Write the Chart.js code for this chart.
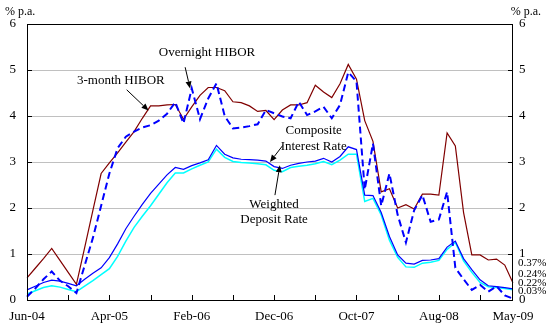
<!DOCTYPE html>
<html>
<head>
<meta charset="utf-8">
<script src="https://cdn.jsdelivr.net/npm/chart.js@4/dist/chart.umd.min.js"></script>
<style>
  html, body { margin: 0; padding: 0; background: #fff; }
  #wrap { width: 548px; height: 330px; }
</style>
</head>
<body>
<div id="wrap"><canvas id="rates"></canvas></div>
<script>
// Monthly observations, Jun-04 .. May-09
const months = [
  'Jun-04','Jul-04','Aug-04','Sep-04','Oct-04','Nov-04','Dec-04',
  'Jan-05','Feb-05','Mar-05','Apr-05','May-05','Jun-05','Jul-05','Aug-05','Sep-05','Oct-05','Nov-05','Dec-05',
  'Jan-06','Feb-06','Mar-06','Apr-06','May-06','Jun-06','Jul-06','Aug-06','Sep-06','Oct-06','Nov-06','Dec-06',
  'Jan-07','Feb-07','Mar-07','Apr-07','May-07','Jun-07','Jul-07','Aug-07','Sep-07','Oct-07','Nov-07','Dec-07',
  'Jan-08','Feb-08','Mar-08','Apr-08','May-08','Jun-08','Jul-08','Aug-08','Sep-08','Oct-08','Nov-08','Dec-08',
  'Jan-09','Feb-09','Mar-09','Apr-09','May-09'
];
const tickLabels = ['Jun-04', 'Apr-05', 'Feb-06', 'Dec-06', 'Oct-07', 'Aug-08', 'May-09'];
const yTicks = [0, 1, 2, 3, 4, 5, 6];

const hibor3m = [
  0.48, 0.69, 0.90, 1.12, 0.86, 0.60, 0.34, 1.14, 1.95, 2.75,
  2.98, 3.20, 3.43, 3.66, 3.95, 4.22, 4.22, 4.24, 4.25, 3.93,
  4.20, 4.45, 4.62, 4.62, 4.55, 4.31, 4.29, 4.22, 4.10, 4.12,
  3.92, 4.13, 4.24, 4.24, 4.29, 4.67, 4.52, 4.40, 4.70, 5.12,
  4.80, 3.90, 3.45, 2.35, 2.42, 2.00, 2.07, 1.98, 2.30, 2.30,
  2.28, 3.63, 3.35, 1.90, 0.98, 0.98, 0.87, 0.89, 0.76, 0.37
];
const overnight = [
  0.07, 0.25, 0.45, 0.62, 0.42, 0.30, 0.15, 0.75, 1.35, 2.05,
  2.75, 3.30, 3.55, 3.66, 3.75, 3.80, 3.90, 4.05, 4.30, 3.84,
  4.60, 3.93, 4.38, 4.71, 4.00, 3.73, 3.75, 3.78, 3.82, 4.13,
  4.06, 3.99, 3.95, 4.31, 4.02, 4.10, 4.20, 3.95, 4.24, 4.95,
  4.75, 2.40, 3.40, 2.05, 2.75, 1.85, 1.25, 1.95, 2.28, 1.70,
  1.75, 2.35, 0.70, 0.45, 0.22, 0.33, 0.18, 0.30, 0.10, 0.03
];
const composite = [
  0.22, 0.30, 0.38, 0.43, 0.41, 0.36, 0.31, 0.45, 0.58, 0.70,
  0.92, 1.22, 1.55, 1.82, 2.08, 2.32, 2.52, 2.72, 2.88, 2.84,
  2.92, 2.98, 3.05, 3.36, 3.17, 3.09, 3.06, 3.05, 3.04, 3.02,
  2.90, 2.86, 2.93, 2.97, 3.00, 3.02, 3.08, 3.00, 3.12, 3.33,
  3.27, 2.28, 2.27, 1.90, 1.38, 0.98, 0.80, 0.78, 0.86, 0.87,
  0.90, 1.15, 1.28, 0.90, 0.66, 0.44, 0.31, 0.29, 0.27, 0.24
];
const weighted = [
  0.13, 0.20, 0.27, 0.31, 0.28, 0.23, 0.18, 0.30, 0.42, 0.55,
  0.68, 0.95, 1.28, 1.58, 1.82, 2.05, 2.30, 2.55, 2.76, 2.76,
  2.85, 2.93, 3.00, 3.28, 3.10, 3.01, 2.99, 2.98, 2.96, 2.94,
  2.82, 2.79, 2.88, 2.91, 2.93, 2.96, 3.01, 2.94, 3.04, 3.17,
  3.17, 2.14, 2.21, 1.85, 1.30, 0.93, 0.72, 0.71, 0.80, 0.82,
  0.86, 1.10, 1.25, 0.85, 0.60, 0.38, 0.29, 0.27, 0.25, 0.22
];

const SERIF = '"Liberation Serif", "Times New Roman", serif';

// callouts: text lines at (month index, rate), arrow from -> to in the same units
const callouts = [
  { lines: ['Overnight HIBOR'], at: [21.85, 5.38], from: [19.2, 5.06], to: [19.8, 4.6] },
  { lines: ['3-month HIBOR'], at: [11.4, 4.76], from: [12.1, 4.57], to: [14.75, 4.12] },
  { lines: ['Composite', 'Interest Rate'], at: [34.8, 3.68], from: [31.05, 3.36], to: [29.5, 3.0] },
  { lines: ['Weighted', 'Deposit Rate'], at: [30.0, 2.08], from: [30.1, 2.28], to: [30.7, 2.93] }
];

// end-of-period readings shown beside the right axis (last value of each series)
const endSeries = [hibor3m, composite, weighted, overnight];
const endOffsets = [-37, -26, -17, -9];

function drawArrow(ctx, x1, y1, x2, y2) {
  const ang = Math.atan2(y2 - y1, x2 - x1);
  const len = 7, half = 3;
  ctx.beginPath();
  ctx.moveTo(x1, y1);
  ctx.lineTo(x2 - Math.cos(ang) * len, y2 - Math.sin(ang) * len);
  ctx.stroke();
  ctx.beginPath();
  ctx.moveTo(x2, y2);
  ctx.lineTo(x2 - Math.cos(ang) * len - Math.sin(ang) * half, y2 - Math.sin(ang) * len + Math.cos(ang) * half);
  ctx.lineTo(x2 - Math.cos(ang) * len + Math.sin(ang) * half, y2 - Math.sin(ang) * len - Math.cos(ang) * half);
  ctx.closePath();
  ctx.fill();
}

const frame = {
  id: 'frame',
  afterDatasetsDraw(chart) {
    const { ctx, chartArea: a, scales } = chart;
    const x = scales.x, y = scales.y;
    ctx.save();
    ctx.strokeStyle = '#000';
    ctx.lineWidth = 1;
    ctx.strokeRect(a.left + 0.5, a.top + 0.5, a.right - a.left - 1, a.bottom - a.top);

    // inward tick marks
    ctx.beginPath();
    yTicks.forEach(v => {
      const py = Math.round(y.getPixelForValue(v)) + 0.5;
      ctx.moveTo(a.left, py); ctx.lineTo(a.left + 5, py);
      ctx.moveTo(a.right, py); ctx.lineTo(a.right - 5, py);
    });
    for (let i = 0; i < months.length; i += 5) {
      const px = Math.round(x.getPixelForValue(i)) + 0.5;
      ctx.moveTo(px, a.bottom); ctx.lineTo(px, a.bottom - 5);
    }
    ctx.stroke();

    // unit captions
    ctx.fillStyle = '#000';
    ctx.font = '12px ' + SERIF;
    ctx.textBaseline = 'middle';
    ctx.textAlign = 'left';
    ctx.fillText('% p.a.', 5, 12);
    ctx.textAlign = 'right';
    ctx.fillText('% p.a.', 541, 12);

    // callouts
    ctx.font = '13px ' + SERIF;
    ctx.textAlign = 'center';
    callouts.forEach(c => {
      const tx = x.getPixelForValue(c.at[0]), ty = y.getPixelForValue(c.at[1]);
      c.lines.forEach((t, i) => ctx.fillText(t, tx, ty + i * 15.5));
      drawArrow(ctx, x.getPixelForValue(c.from[0]), y.getPixelForValue(c.from[1]),
                x.getPixelForValue(c.to[0]), y.getPixelForValue(c.to[1]));
    });

    // latest readings
    ctx.font = '11px ' + SERIF;
    ctx.textAlign = 'left';
    endSeries.forEach((s, i) => {
      ctx.fillText(s[s.length - 1].toFixed(2) + '%', a.right + 5, a.bottom + endOffsets[i]);
    });
    ctx.restore();
  }
};

const tickFont = { family: SERIF, size: 13 };

new Chart(document.getElementById('rates'), {
  type: 'line',
  data: {
    labels: months,
    datasets: [
      { label: 'Overnight HIBOR', data: overnight, borderColor: '#0000ff', borderWidth: 2, borderDash: [7, 4] },
      { label: '3-month HIBOR', data: hibor3m, borderColor: '#800000', borderWidth: 1.2 },
      { label: 'Composite Interest Rate', data: composite, borderColor: '#0000ff', borderWidth: 1.2 },
      { label: 'Weighted Deposit Rate', data: weighted, borderColor: '#00ffff', borderWidth: 1.5 }
    ]
  },
  options: {
    responsive: true,
    maintainAspectRatio: false,
    animation: false,
    elements: { point: { radius: 0 }, line: { tension: 0 } },
    layout: { padding: { top: 24, left: 0, right: 0, bottom: 0 } },
    plugins: { legend: { display: false }, tooltip: { enabled: false } },
    scales: {
      x: {
        offset: false,
        grid: { display: false, drawTicks: false },
        border: { display: false },
        afterFit: s => { s.height = 30; },
        ticks: {
          autoSkip: false, maxRotation: 0, padding: 9,
          color: '#000', font: tickFont,
          callback: (v, i) => tickLabels.includes(months[i]) ? months[i] : ''
        }
      },
      y: {
        position: 'left', min: 0, max: 6,
        afterFit: s => { s.width = 27; },
        border: { display: false },
        grid: { drawTicks: false, color: c => (c.tick.value === 0 || c.tick.value === 6) ? 'rgba(0,0,0,0)' : '#c0c0c0' },
        ticks: { stepSize: 1, padding: 11, color: '#000', font: tickFont }
      },
      y2: {
        position: 'right', min: 0, max: 6,
        afterFit: s => { s.width = 35; },
        border: { display: false },
        grid: { display: false, drawTicks: false },
        ticks: { stepSize: 1, padding: 6, color: '#000', font: tickFont }
      }
    }
  },
  plugins: [frame]
});
</script>
</body>
</html>
